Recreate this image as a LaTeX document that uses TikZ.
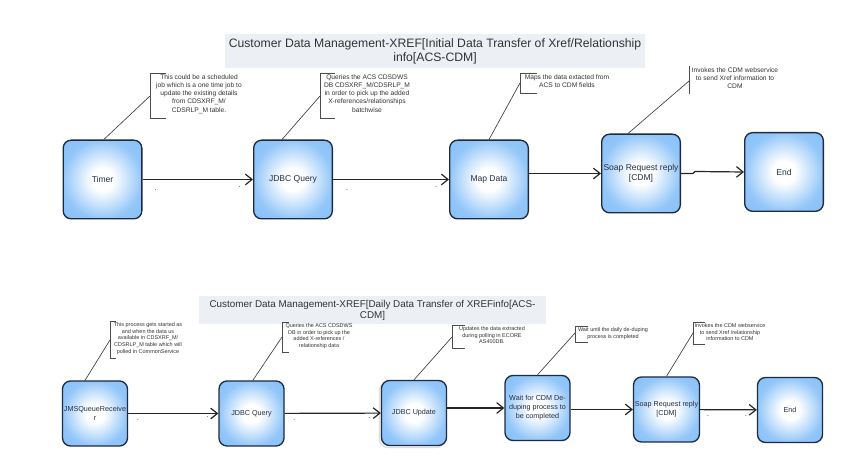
\documentclass[tikz,border=0pt]{standalone}
\usepackage{fontspec}
\setmainfont{Liberation Sans}
\usetikzlibrary{arrows.meta,shadows}
\definecolor{nodeblue}{RGB}{135,192,248}
\definecolor{nodeedge}{RGB}{30,42,64}
\definecolor{titlefill}{RGB}{236,240,245}
\definecolor{txt}{RGB}{35,45,70}
\pgfdeclareradialshading{softglow}{\pgfpoint{0bp}{0bp}}{%
  color(0bp)=(white); color(7bp)=(white); color(16bp)=(white!55!nodeblue);
  color(25bp)=(white!10!nodeblue); color(35bp)=(nodeblue); color(50bp)=(nodeblue)}
\tikzset{
 proc/.style={draw=nodeedge, line width=1pt, rounded corners=6pt, shading=softglow, align=center, text=txt, inner sep=1pt},
 bigproc/.style={proc, minimum width=59pt, minimum height=59pt, font=\fontsize{6.4}{7.8}\selectfont},
 smallproc/.style={proc, minimum width=48.75pt, minimum height=48.75pt, font=\fontsize{5.4}{6.8}\selectfont},
 flow/.style={line width=0.9pt, draw=black!85, -{Straight Barb[length=5pt,width=8pt,line width=0.9pt]}},
 noteline/.style={draw=black!75, line width=0.5pt},
 bracket/.style={draw=black!70, line width=0.7pt},
 notetop/.style={align=center, anchor=north, inner sep=0pt, font=\fontsize{5}{6.2}\selectfont, text=black!80},
 notebot/.style={align=center, anchor=north, inner sep=0pt, font=\fontsize{4.1}{5.1}\selectfont, text=black!80},
 titlebox/.style={fill=titlefill, draw=none, align=center, text=black!80, inner sep=0pt},
 tick/.style={font=\fontsize{6}{6}\selectfont, inner sep=0pt, anchor=base, text=black!70},
}
\begin{document}
\begin{tikzpicture}[x=0.75pt, y=-0.75pt]
\useasboundingbox (0,0) rectangle (854,466);
\fill[white] (0,0) rectangle (854,466);

% titles
\node[titlebox, minimum width=315pt, minimum height=25.5pt, font=\fontsize{9.15}{10.5}\selectfont] (title1) at (435,51)
  {Customer Data Management-XREF[Initial Data Transfer of Xref/Relationship\\info[ACS-CDM]};
\node[titlebox, minimum width=260pt, minimum height=21pt, font=\fontsize{7.4}{8.3}\selectfont] (title2) at (372.5,310)
  {Customer Data Management-XREF[Daily Data Transfer of XREFinfo[ACS-\\CDM]};

% top row
\node[bigproc] (t1) at (102.5,179.5) {Timer};
\node[bigproc] (j1) at (293,179.5) {JDBC Query};
\node[bigproc] (m1) at (489,179.5) {Map Data};
\node[bigproc] (s1) at (641,173.5) {Soap Request reply\\ {[CDM]}};
\node[bigproc] (e1) at (784,172) {End};

% bottom row
\node[smallproc, copy shadow={shadow xshift=-1.5pt, shadow yshift=-1.5pt, draw=gray!25, fill=gray!6}] (u2) at (414,413) {JDBC Update};
\node[smallproc] (r2) at (95,413.5) {JMSQueueReceive\\r};
\node[smallproc] (j2) at (251.5,413.5) {JDBC Query};
\node[smallproc] (w2) at (537.5,408) {Wait for CDM De-\\duping process to\\be completed};
\node[smallproc] (s2) at (666.5,409.5) {Soap Request reply\\ {[CDM]}};
\node[smallproc] (e2) at (790,410) {End};

% top flows
\draw[flow] (t1) -- node[tick,pos=.12,yshift=-8.5pt] (d1) {.} node[tick,pos=.88,yshift=-6pt] (d2) {.} (j1);
\draw[flow] (j1) -- node[tick,pos=.12,yshift=-8.5pt] (d3) {.} node[tick,pos=.89,yshift=-6pt] (d4) {.} (m1);
\draw[flow] (m1.east |- s1.west) -- (s1.west);
\draw[flow] (s1.east) -- ++(12,0) -- ++(2,-2) -- (e1.west);

% bottom flows
\draw[flow] (r2) -- node[tick,pos=.11,yshift=-5pt] (d5) {.} node[tick,pos=.88,yshift=-3pt] (d6) {.} (j2);
\draw[flow] (j2) -- node[tick,pos=.1,yshift=-5.5pt] (d7) {.} node[tick,pos=.88,yshift=-4pt] (d8) {.} (u2);
\draw[flow] (u2.east |- w2.west) -- (w2.west);
\draw[flow] (w2.east |- s2.west) -- (s2.west);
\draw[flow] (s2) -- node[tick,pos=.14,yshift=-5pt] (d9) {.} node[tick,pos=.81,yshift=-5pt] (d10) {.} (e2);

% top notes
\draw[bracket] (166,73) -- (150,73) -- (150,118) -- (166,118);
\coordinate (a1) at (150,96);
\node[notetop] (n1) at (199,74) {This could be a scheduled\\job which is a one time job to\\update the existing details\\from CDSXRF\_M/\\CDSRLP\_M table.};
\draw[noteline] ([xshift=1pt]t1.north) -- (a1);

\draw[bracket] (335,73) -- (320,73) -- (320,118) -- (335,118);
\coordinate (a2) at (320,96);
\node[notetop] (n2) at (367,74) {Queries the ACS CDSDWS\\DB CDSXRF\_M/CDSRLP\_M\\in order to pick up the added\\X-references/relationships\\batchwise};
\draw[noteline] ([xshift=-8.25pt]j1.north) -- (a2);

\draw[bracket] (537,73) -- (520,73) -- (520,93) -- (537,93);
\coordinate (a3) at (520,83);
\node[notetop] (n3) at (567,74) {Maps the data extacted from\\ACS to CDM fields};
\draw[noteline] (m1.north) -- (a3);

\draw[bracket] (689,66) -- (689,94);
\coordinate (a4) at (689,81);
\node[notetop] (n4) at (735,67) {Invokes the CDM webservice\\to send Xref information to\\CDM};
\draw[noteline] ([xshift=-9.75pt]s1.north) -- (a4);

% bottom notes
\draw[bracket] (116,321) -- (110,321) -- (110,358) -- (116,358);
\coordinate (b1) at (110,340);
\node[notebot] (m5) at (148,322) {This process gets started as\\and when the data us\\available in CDSXRF\_M/\\CDSRLP\_M table which will\\polled in CommonService};
\draw[noteline] ([xshift=-7.5pt]r2.north) -- (b1);

\draw[bracket] (289,322) -- (282,322) -- (282,352) -- (289,352);
\coordinate (b2) at (282,337);
\node[notebot] (m6) at (319,323) {Queries the ACS CDSDWS\\DB in order to pick up the\\added X-references /\\relationship data};
\draw[noteline] ([xshift=1pt]j2.north) -- (b2);

\draw[bracket] (465,325) -- (452,325) -- (452,348) -- (465,348);
\coordinate (b3) at (452,337);
\node[notebot] (m7) at (492,326) {Updates the data extracted\\during polling in ECORE\\AS400DB.};
\draw[noteline] (u2.north) -- (b3);

\draw[bracket] (588,326) -- (575,326) -- (575,342) -- (588,342);
\coordinate (b4) at (575,333);
\node[notebot] (m8) at (613,327) {Wait until the daily de-duping\\process is completed};
\draw[noteline] (w2.north) -- (b4);

\draw[bracket] (705,322) -- (693,322) -- (693,344) -- (705,344);
\coordinate (b5) at (693,333);
\node[notebot] (m9) at (730,323) {Invokes the CDM webservice\\to send Xref /relationship\\information to CDM};
\draw[noteline] (s2.north) -- (b5);
\end{tikzpicture}
\end{document}
